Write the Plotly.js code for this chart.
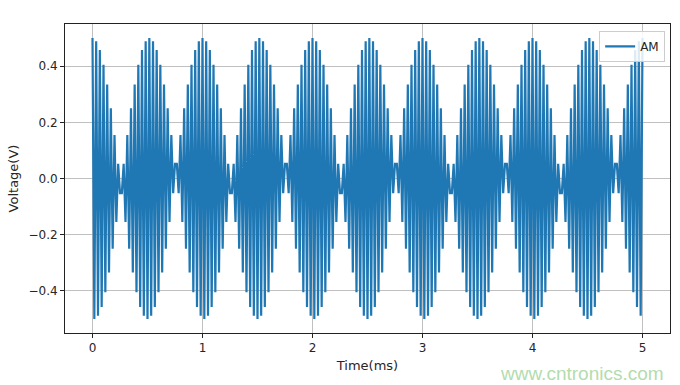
<!DOCTYPE html>
<html>
<head>
<meta charset="utf-8">
<script src="https://cdn.plot.ly/plotly-3.0.1.min.js"></script>
<style>html,body{margin:0;padding:0;background:#fff;}#chart{width:680px;height:385px;}</style>
</head>
<body>
<div id="chart"></div>
<script>
// Values
const seriesName = "AM";
const carrierPeriodMs = 1 / 30;           // spacing of the carrier spikes (ms)
const spikesPerLobe = 15;                 // spikes in each 0.5 ms lobe
const lobeCount = 10;                     // lobes from 0 to 5 ms
// spike heights within one lobe (V)
const lobeSpikeAmplitudes = [0.5, 0.489, 0.457, 0.405, 0.335, 0.25, 0.155, 0.052,
                             0.052, 0.155, 0.25, 0.335, 0.405, 0.457, 0.489];
const xTicks = [0, 1, 2, 3, 4, 5];
const yTicks = [-0.4, -0.2, 0.0, 0.2, 0.4];
const yTickLabels = ["\u22120.4", "\u22120.2", "0.0", "0.2", "0.4"];

// Build the carrier zig-zag from the read spike table
const t = [], v = [];
const totalSpikes = spikesPerLobe * lobeCount;
for (let k = 0; k <= totalSpikes; k++) {
  const idx = k % spikesPerLobe;
  const amp = lobeSpikeAmplitudes[idx];
  const lobe = Math.round(k / spikesPerLobe);
  const s = (lobe % 2 === 0 ? 1 : -1) * amp;
  const tk = k * carrierPeriodMs;
  t.push(tk); v.push(s);
  if (k < totalSpikes) { t.push(tk + carrierPeriodMs / 2); v.push(-s); }
}

const trace = {
  x: t, y: v, type: "scatter", mode: "lines", name: seriesName,
  line: {color: "#1f77b4", width: 2.2, simplify: false}
};

const txt = "#262626";
const axisCommon = {
  showline: true, mirror: true, linecolor: "#222", linewidth: 1,
  ticks: "outside", ticklen: 4, tickwidth: 1, tickcolor: "#222",
  showgrid: true, gridcolor: "#b0b0b0", gridwidth: 0.8,
  zeroline: false,
  tickfont: {family: "DejaVu Sans", size: 12, color: txt}
};

const layout = {
  width: 680, height: 385,
  margin: {l: 65, r: 10, t: 24, b: 52},
  paper_bgcolor: "#fff", plot_bgcolor: "#fff",
  showlegend: true,
  legend: {
    x: 0.992, xanchor: "right", y: 0.978, yanchor: "top",
    bgcolor: "rgba(255,255,255,0.85)", bordercolor: "#cccccc", borderwidth: 1,
    itemwidth: 30,
    font: {family: "DejaVu Sans", size: 12, color: txt}
  },
  xaxis: Object.assign({}, axisCommon, {
    range: [-0.25, 5.25], tickvals: xTicks, ticktext: xTicks.map(String),
    title: {text: "Time(ms)", font: {family: "DejaVu Sans", size: 13, color: txt}, standoff: 6}
  }),
  yaxis: Object.assign({}, axisCommon, {
    range: [-0.55, 0.55], tickvals: yTicks, ticktext: yTickLabels,
    title: {text: "Voltage(V)", font: {family: "DejaVu Sans", size: 13, color: txt}, standoff: 6}
  }),
  annotations: [{
    text: "www.cntronics.com", xref: "paper", yref: "paper",
    x: 0.9935, y: -0.13, xanchor: "right", yanchor: "middle", showarrow: false,
    font: {family: "Liberation Sans", size: 19, color: "#b3dcae"}
  }]
};

Plotly.newPlot("chart", [trace], layout, {displayModeBar: false, staticPlot: true});
</script>
</body>
</html>
